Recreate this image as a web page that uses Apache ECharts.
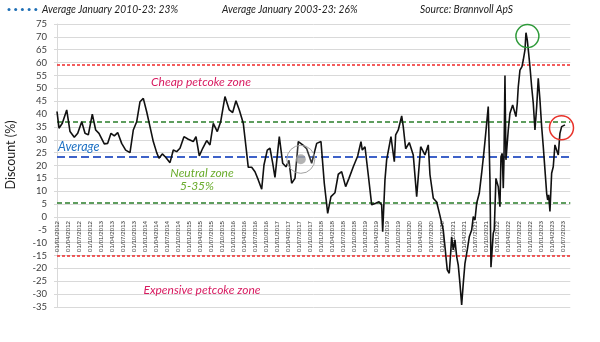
<!DOCTYPE html>
<html>
<head>
<meta charset="utf-8">
<script src="https://cdn.jsdelivr.net/npm/echarts@6/dist/echarts.min.js"></script>
<style>html,body{margin:0;padding:0;background:#fff}#c{width:600px;height:342px}</style>
</head>
<body>
<div id="c"></div>
<script>
// months since 01/01/2012 (fractional, data is weekly/irregular)
const months = [0,0.55,1.45,2.65,3.55,4.72,5.65,6.74,7.64,8.54,9.63,10.55,11.45,12.9,13.83,14.73,15.63,16.55,17.64,18.73,19.91,20.81,21.73,22.64,23.54,24.46,25.36,26.26,27.19,27.82,28.72,29.64,30.82,31.72,32.64,33.54,
34.63,35.81,37.17,37.91,38.81,39.74,40.83,41.72,42.63,43.72,44.64,45.81,46.99,47.91,48.81,49.72,50.81,51.54,52.17,53.1,54,54.9,55.83,56.45,57.35,58.09,58.83,59.45,60.63,61.55,62.45,63.27,64,64.91,65.81,67.01,68.1,69.46,70.83,72,
72.9,73.83,74.72,75.81,76.72,77.64,78.73,79.63,80.81,82.01,82.91,83.26,84,84.9,85.83,86.92,87.82,88.55,88.83,89.45,89.91,91.09,92,92.37,93.08,94.01,94.44,95.1,96.08,97.17,98.1,99.19,100.36,101.26,101.72,102.63,103.55,104.45,105.35,
105.81,106.44,106.98,107.37,107.64,108.08,108.54,109.01,109.44,109.9,110.37,110.81,111.27,111.9,112.45,113.1,113.54,114,114.46,115.17,115.82,116.45,116.72,117.19,117.62,118.09,118.36,118.99,119.26,119.72,120.35,120.81,121.09,121.44,121.72,121.9,122.18,122.45,
123.08,123.54,124.28,124.64,125.18,125.54,125.81,126.27,126.82,127.17,127.64,127.91,128.26,128.64,129,129.46,129.9,130.36,130.83,131.26,131.72,132.19,132.63,133.09,133.55,133.83,134.1,134.45,134.91,135.35,135.81,136.28,136.72,137.17,137.64,138.08,138.54];
// discount (%)
const discount = [41,34.5,36.4,41.6,33.2,31,32.5,37,32.5,31.9,40,33.8,32.5,28.4,28.6,32.5,31.5,32.8,28.6,26,25,33.8,37,44.8,46.1,40.9,35.1,29.3,25,22.8,24.5,23.2,21.1,26,25.4,26.7,
31.2,30.2,29.3,31.2,23.7,26.7,29.7,28,36.4,33.2,37,46.8,41.6,40.6,45.2,41.6,36.4,27.3,19.3,19.3,17.6,14.4,10.8,20.2,26,26.7,20.9,15.4,31.2,20.9,19.5,22,13.1,15,29.3,28,26.5,20.9,28.6,29.3,
13.1,1.4,7.9,9.4,16.6,17.6,11.8,15,19.5,23.7,29.3,26,27.3,16.3,4.7,5.3,5.9,4.7,-5.7,14.4,22.2,31.2,21.5,31.9,33.8,39.3,35.1,26.5,28.9,24.1,7.9,27.3,24.1,28,16.5,7.3,5.8,0.5,-5.1,
-11.5,-20.6,-21.9,-14.1,-7.7,-12.8,-8.9,-15.4,-18.7,-25.8,-34.2,-25.8,-18,-12.8,-7.7,-5.1,0.1,-1.2,5.3,9.2,17,25.4,29.3,29.9,42.9,14.4,-19.5,-6.3,-5.1,15,11.8,4,23.4,24.7,11.2,21.5,55,22.2,
33.8,40.3,43.5,43.5,39,44.2,50.6,57.1,58.4,61,64.9,71.6,68.8,63.6,58.4,50.6,44.2,33.8,42.9,53.9,45.5,35.1,27.3,18.3,9.2,6.6,8.6,2.1,17,19.5,28,27.3,24.1,32.5,35.1,35.8,35.8];

const cheapLevel = 59, expensiveLevel = -15;
const neutralHigh = 37, neutralLow = 5.5;
const averageLevel = 23.5;
const yTicks = {min: -35, max: 75, step: 5};
const highlightPeak = [128.3, 70.3];
const highlightLatest = [137.6, 34.7];
const highlightMarker = [66.5, 22.4];

const chart = echarts.init(document.getElementById('c'), null, {renderer: 'canvas'});
const data = months.map((m, i) => [m, discount[i]]);
function pad(n){return n < 10 ? '0' + n : '' + n;}
const F = 'Lato, "Open Sans", sans-serif';
const gridTop = 24, gridBottom = 35, gridH = 342 - gridTop - gridBottom;
// move the date axis up so it sits on the zero line
const zeroOffset = -gridH * (0 - yTicks.min) / (yTicks.max - yTicks.min);

chart.setOption({
  animation: false,
  grid: {left: 57, right: 29.7, top: gridTop, bottom: gridBottom},
  xAxis: {
    type: 'value', min: 0, max: 140, interval: 3,
    position: 'bottom', offset: zeroOffset,
    axisLine: {show: false, onZero: false},
    axisTick: {show: false},
    splitLine: {show: false},
    axisLabel: {
      rotate: 90, fontSize: 6.2, margin: 4, color: '#333', fontFamily: '"Liberation Sans", Arial, sans-serif',
      showMaxLabel: false,
      formatter: v => {
        if (v % 3 !== 0) return '';
        const y = 2012 + Math.floor(v / 12), mo = v % 12 + 1;
        return '01/' + pad(mo) + '/' + y;
      }
    }
  },
  yAxis: {
    type: 'value', min: yTicks.min, max: yTicks.max, interval: yTicks.step,
    axisLine: {show: true, lineStyle: {color: '#d9d9d9'}},
    axisTick: {show: true, length: 3, lineStyle: {color: '#d9d9d9'}},
    splitLine: {show: true, lineStyle: {color: '#d9d9d9', width: 1}},
    axisLabel: {fontSize: 9.5, color: '#404040', margin: 10, fontFamily: F}
  },
  series: [{
    type: 'line', data: data, showSymbol: false, symbol: 'none',
    lineStyle: {color: '#111', width: 1.6},
    z: 5,
    markLine: {
      silent: true, symbol: 'none', label: {show: false},
      data: [
        {yAxis: cheapLevel, lineStyle: {color: '#f02a2a', type: [3, 2], width: 1.5}},
        {yAxis: expensiveLevel, lineStyle: {color: '#f02a2a', type: [3, 2], width: 1.5}},
        {yAxis: neutralHigh, lineStyle: {color: '#2a7d2a', type: [5, 3], width: 1.5}},
        {yAxis: neutralLow, lineStyle: {color: '#2a7d2a', type: [5, 3], width: 1.5}},
        {yAxis: averageLevel, lineStyle: {color: '#3e62c8', type: [8, 4], width: 2}}
      ]
    }
  }]
});

const pk = chart.convertToPixel({gridIndex: 0}, highlightPeak);
const lt = chart.convertToPixel({gridIndex: 0}, highlightLatest);
const mk = chart.convertToPixel({gridIndex: 0}, highlightMarker);
const italic = (text, x, y, color, size, align, sx) => ({
  type: 'text', x: x, y: y, z: 20, scaleX: sx || 1,
  style: {text: text, fill: color, font: 'italic ' + size + 'px ' + F, align: align || 'left', verticalAlign: 'middle'}
});
const dots = [];
for (let i = 0; i < 5; i++) dots.push({type: 'circle', shape: {cx: 9 + i * 6.7, cy: 9.5, r: 1.5}, style: {fill: '#1f6fb5'}, z: 20});

chart.setOption({
  graphic: [].concat(dots, [
    italic('Average January 2010-23: 23%', 42, 9, '#222', 11.5, 'left', 0.89),
    italic('Average January 2003-23: 26%', 222, 9, '#222', 11.5, 'left', 0.89),
    italic('Source: Brannvoll ApS', 420, 9, '#222', 11.5, 'left', 0.89),
    {type: 'text', x: 11, y: 155, rotation: Math.PI / 2, z: 20,
     style: {text: 'Discount (%)', fill: '#222', font: '12.5px ' + F, align: 'center', verticalAlign: 'middle'}},
    italic('Cheap petcoke zone', 201, 82, '#d81b60', 12, 'center'),
    italic('Average', 58, 147, '#1f72c4', 12.5),
    italic('Neutral zone', 202, 173, '#6aac2d', 12, 'center'),
    italic('5-35%', 197, 186, '#6aac2d', 12, 'center'),
    italic('Expensive petcoke zone', 202, 290, '#d81b60', 12, 'center'),
    {type: 'circle', shape: {cx: pk[0], cy: pk[1], r: 11.5}, style: {fill: 'none', stroke: '#2f9a3a', lineWidth: 1.5}, z: 20},
    {type: 'circle', shape: {cx: lt[0], cy: lt[1], r: 12}, style: {fill: 'none', stroke: '#e8322a', lineWidth: 1.5}, z: 20},
    {type: 'circle', shape: {cx: mk[0], cy: mk[1], r: 14}, style: {fill: 'rgba(255,255,255,0.15)', stroke: '#a0a0a0', lineWidth: 1}, z: 20},
    {type: 'circle', shape: {cx: mk[0], cy: mk[1], r: 5}, style: {fill: 'rgba(160,160,160,0.8)', stroke: 'none'}, z: 21}
  ])
});
</script>
</body>
</html>
